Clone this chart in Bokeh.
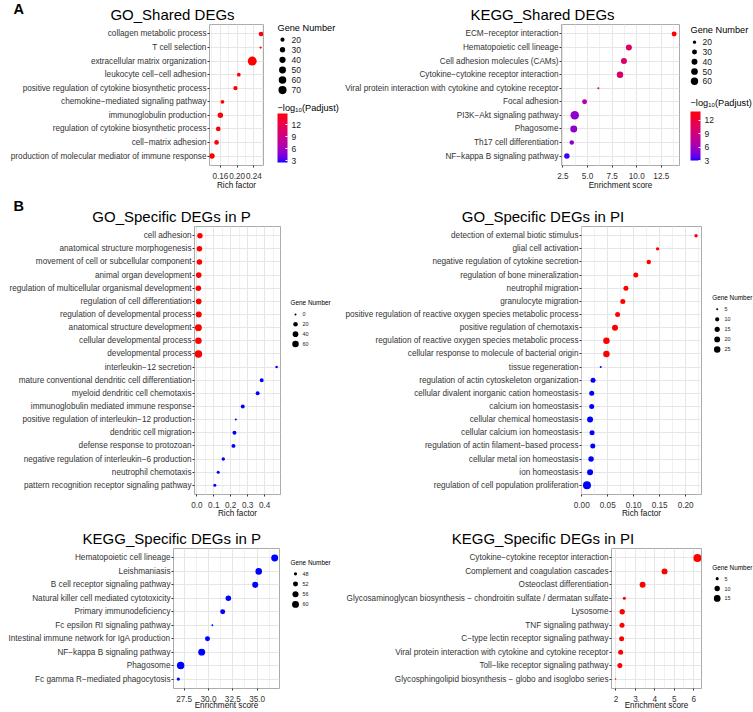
import numpy as np
from bokeh.plotting import figure
from bokeh.layouts import row, column
from bokeh.models import (ColumnDataSource, FactorRange, Range1d, FixedTicker,
                          NumeralTickFormatter, LinearColorMapper, ColorBar)
from bokeh.transform import transform, factor_cmap
from bokeh.core.properties import value
from bokeh.embed import file_html
from bokeh.resources import INLINE

# ------------------------------------------------------------------ data
go_shared_terms = ["collagen metabolic process", "T cell selection", "extracellular matrix organization",
                   "leukocyte cell\u2212cell adhesion", "positive regulation of cytokine biosynthetic process",
                   "chemokine\u2212mediated signaling pathway", "immunoglobulin production",
                   "regulation of cytokine biosynthetic process", "cell\u2212matrix adhesion",
                   "production of molecular mediator of immune response"]
go_shared_rich = [0.257, 0.256, 0.236, 0.204, 0.196, 0.165, 0.160, 0.155, 0.151, 0.140]
go_shared_genes = [24, 14, 88, 18, 21, 18, 31, 24, 24, 31]
go_shared_logp = [14.6, 14.7, 14.8, 14.5, 14.6, 14.6, 14.7, 14.6, 14.6, 14.8]
go_shared_logp_limits = (2.6, 14.8)
go_shared_ticks = [0.16, 0.20, 0.24]
go_shared_minor = [0.14, 0.18, 0.22, 0.26]
go_shared_breaks = [20, 30, 40, 50, 60, 70]

kegg_shared_terms = ["ECM\u2212receptor interaction", "Hematopoietic cell lineage", "Cell adhesion molecules (CAMs)",
                     "Cytokine\u2212cytokine receptor interaction",
                     "Viral protein interaction with cytokine and cytokine receptor", "Focal adhesion",
                     "PI3K\u2212Akt signaling pathway", "Phagosome", "Th17 cell differentiation",
                     "NF\u2212kappa B signaling pathway"]
kegg_shared_score = [13.8, 9.2, 8.7, 8.3, 6.1, 4.7, 3.7, 3.6, 3.4, 2.9]
kegg_shared_genes = [30, 41, 41, 47, 17, 30, 80, 54, 26, 35]
kegg_shared_logp = [14.0, 10.3, 10.0, 9.9, 8.2, 6.8, 5.2, 5.3, 5.1, 3.4]
kegg_shared_logp_limits = (3.0, 14.0)
kegg_shared_ticks = [2.5, 5.0, 7.5, 10.0, 12.5]
kegg_shared_minor = [3.75, 6.25, 8.75, 11.25, 13.75]
kegg_shared_breaks = [20, 30, 40, 50, 60]

colorbar_ticks = [3, 6, 9, 12]

go_p_terms = ["cell adhesion", "anatomical structure morphogenesis", "movement of cell or subcellular component",
              "animal organ development", "regulation of multicellular organismal development",
              "regulation of cell differentiation", "regulation of developmental process",
              "anatomical structure development", "cellular developmental process", "developmental process",
              "interleukin\u221212 secretion", "mature conventional dendritic cell differentiation",
              "myeloid dendritic cell chemotaxis", "immunoglobulin mediated immune response",
              "positive regulation of interleukin\u221212 production", "dendritic cell migration",
              "defense response to protozoan", "negative regulation of interleukin\u22126 production",
              "neutrophil chemotaxis", "pattern recognition receptor signaling pathway"]
go_p_rich = [0.018, 0.015, 0.015, 0.011, 0.009, 0.011, 0.011, 0.009, 0.009, 0.009,
             0.471, 0.383, 0.359, 0.271, 0.230, 0.222, 0.216, 0.156, 0.126, 0.106]
go_p_genes = [36, 38, 37, 40, 37, 40, 48, 70, 60, 88, 3, 13, 13, 13, 2, 13, 13, 8, 5, 5]
go_p_group = ["high"] * 10 + ["low"] * 10
go_p_ticks = [0.0, 0.1, 0.2, 0.3, 0.4]
go_p_minor = [0.05, 0.15, 0.25, 0.35, 0.45]
go_p_breaks = [0, 20, 40, 60]

go_pi_terms = ["detection of external biotic stimulus", "glial cell activation",
               "negative regulation of cytokine secretion", "regulation of bone mineralization",
               "neutrophil migration", "granulocyte migration",
               "positive regulation of reactive oxygen species metabolic process",
               "positive regulation of chemotaxis", "regulation of reactive oxygen species metabolic process",
               "cellular response to molecule of bacterial origin", "tissue regeneration",
               "regulation of actin cytoskeleton organization", "cellular divalent inorganic cation homeostasis",
               "calcium ion homeostasis", "cellular chemical homeostasis", "cellular calcium ion homeostasis",
               "regulation of actin filament\u2212based process", "cellular metal ion homeostasis",
               "ion homeostasis", "regulation of cell population proliferation"]
go_pi_rich = [0.220, 0.146, 0.129, 0.104, 0.085, 0.079, 0.069, 0.064, 0.0475, 0.0475,
              0.0365, 0.0217, 0.0192, 0.0192, 0.016, 0.0198, 0.0212, 0.0179, 0.016, 0.0100]
go_pi_genes = [7, 7, 11, 14, 14, 14, 14, 21, 25, 25, 5, 14, 14, 14, 21, 14, 14, 17, 21, 41]
go_pi_group = ["high"] * 10 + ["low"] * 10
go_pi_ticks = [0.00, 0.05, 0.10, 0.15, 0.20]
go_pi_minor = [0.025, 0.075, 0.125, 0.175, 0.225]
go_pi_breaks = [5, 10, 15, 20, 25]

kegg_p_terms = ["Hematopoietic cell lineage", "Leishmaniasis", "B cell receptor signaling pathway",
                "Natural killer cell mediated cytotoxicity", "Primary immunodeficiency",
                "Fc epsilon RI signaling pathway", "Intestinal immune network for IgA production",
                "NF\u2212kappa B signaling pathway", "Phagosome", "Fc gamma R\u2212mediated phagocytosis"]
kegg_p_score = [36.8, 35.16, 34.8, 32.04, 31.46, 30.4, 29.9, 29.3, 27.14, 26.9]
kegg_p_genes = [60, 58, 56, 54, 52, 47, 52, 60, 63, 48]
kegg_p_group = ["low"] * 10
kegg_p_ticks = [27.5, 30.0, 32.5, 35.0]
kegg_p_minor = [26.25, 28.75, 31.25, 33.75, 36.25]
kegg_p_breaks = [48, 52, 56, 60]

kegg_pi_terms = ["Cytokine\u2212cytokine receptor interaction", "Complement and coagulation cascades",
                 "Osteoclast differentiation",
                 "Glycosaminoglycan biosynthesis \u2212 chondroitin sulfate / dermatan sulfate",
                 "Lysosome", "TNF signaling pathway", "C\u2212type lectin receptor signaling pathway",
                 "Viral protein interaction with cytokine and cytokine receptor",
                 "Toll\u2212like receptor signaling pathway",
                 "Glycosphingolipid biosynthesis \u2212 globo and isoglobo series"]
kegg_pi_score = [6.19, 4.5, 3.37, 2.43, 2.32, 2.31, 2.29, 2.24, 2.2, 1.98]
kegg_pi_genes = [21, 12, 12, 5, 10, 9, 9, 9, 9, 4]
kegg_pi_group = ["high"] * 10
kegg_pi_ticks = [2, 3, 4, 5, 6]
kegg_pi_minor = [2.5, 3.5, 4.5, 5.5]
kegg_pi_breaks = [5, 10, 15]

# ------------------------------------------------------------------ styling helpers
FONT = "Liberation Sans"
RED, BLUE = "#FF0000", "#0000FF"
W, H = 753, 712

_M = np.array([[0.4124564, 0.3575761, 0.1804375],
               [0.2126729, 0.7151522, 0.0721750],
               [0.0193339, 0.1191920, 0.9503041]])
_W = np.array([0.95047, 1.0, 1.08883])


def _to_lab(hexc):
    c = np.array([int(hexc[i:i + 2], 16) for i in (1, 3, 5)]) / 255.0
    lin = np.where(c <= 0.04045, c / 12.92, ((c + 0.055) / 1.055) ** 2.4)
    t = (_M @ lin) / _W
    d = 6 / 29
    f = np.where(t > d ** 3, np.cbrt(t), t / (3 * d * d) + 4 / 29)
    return np.array([116 * f[1] - 16, 500 * (f[0] - f[1]), 200 * (f[1] - f[2])])


def _to_hex(lab):
    L, a, b = lab
    fy = (L + 16) / 116
    f = np.array([fy + a / 500, fy, fy - b / 200])
    d = 6 / 29
    t = np.where(f > d, f ** 3, 3 * d * d * (f - 4 / 29))
    lin = np.clip(np.linalg.inv(_M) @ (t * _W), 0, 1)
    c = np.where(lin <= 0.0031308, 12.92 * lin, 1.055 * lin ** (1 / 2.4) - 0.055)
    r, g, bb = np.clip(np.round(c * 255), 0, 255).astype(int)
    return "#%02x%02x%02x" % (r, g, bb)


_lo, _hi = _to_lab(BLUE), _to_lab(RED)
PALETTE = [_to_hex(_lo + (_hi - _lo) * t) for t in np.linspace(0, 1, 256)]


def size_scale(v, vmin, vmax, dlo, dhi):
    x = np.clip((np.asarray(v, float) - vmin) / (vmax - vmin), 0, 1)
    return list(dlo + (dhi - dlo) * np.sqrt(x))


def blank(fig_box, frame_tb=None):
    """Figure without axes whose data coordinates equal page pixels (inside its frame)."""
    fl, ft, fr, fb = fig_box
    yt, yb = frame_tb if frame_tb else (ft, fb)
    p = figure(width=fr - fl, height=fb - ft, x_range=Range1d(fl, fr), y_range=Range1d(yb, yt),
               output_backend="svg", toolbar_location=None,
               min_border_left=0, min_border_right=0,
               min_border_top=yt - ft, min_border_bottom=fb - yb,
               x_axis_type=None, y_axis_type=None)
    p.outline_line_color = None
    return p


def put_text(p, x, y, text, size, align="left", bold=False, color="black"):
    p.text(x=[x], y=[y], text=[text], text_font=value(FONT), text_font_size=value(size),
           text_font_style="bold" if bold else "normal", text_baseline="middle",
           text_align=align, text_color=color)


def strip(fig_box, items):
    p = blank(fig_box)
    for (x, y, text, size, align, bold) in items:
        put_text(p, x, y, text, size, align=align, bold=bold)
    return p


def main_panel(fig_box, frame, terms, xs, genes, extra, fill, ticks, minor, fmt, xlabel,
               dlo, dhi, label_standoff=-1):
    fl, ft, fr, fb = fig_box
    xl, yt, xr, yb = frame
    lo, hi = min(xs), max(xs)
    pad = 0.05 * (hi - lo)
    p = figure(width=fr - fl, height=fb - ft,
               x_range=Range1d(lo - pad, hi + pad),
               y_range=FactorRange(factors=list(reversed(terms)), range_padding=0.2,
                                   range_padding_units="absolute"),
               output_backend="svg", toolbar_location=None,
               min_border_left=xl - fl, min_border_right=fr - xr,
               min_border_top=yt - ft, min_border_bottom=fb - yb)
    data = dict(term=terms, x=xs, genes=genes,
                size=size_scale(genes, min(genes), max(genes), dlo, dhi))
    data.update(extra)
    src = ColumnDataSource(data)
    p.scatter("x", "term", size="size", source=src, fill_color=fill, line_color=None)

    p.xaxis.ticker = FixedTicker(ticks=ticks, minor_ticks=minor)
    p.xaxis.formatter = NumeralTickFormatter(format=fmt)
    for ax in (p.xaxis[0], p.yaxis[0]):
        ax.axis_line_color = None
        ax.major_tick_line_color = "#333333"
        ax.major_tick_out = 2
        ax.major_tick_in = 0
        ax.minor_tick_line_color = None
        ax.major_label_text_font = FONT
        ax.major_label_text_font_size = "8.2px"
        ax.major_label_text_color = "#333333"
        ax.major_label_standoff = 1
    p.xaxis.major_label_standoff = 3
    p.xaxis.axis_label = xlabel
    p.xaxis.axis_label_text_font = FONT
    p.xaxis.axis_label_text_font_size = "8.2px"
    p.xaxis.axis_label_text_font_style = "normal"
    p.xaxis.axis_label_text_color = "#111111"
    p.xaxis.axis_label_standoff = label_standoff
    p.xgrid.grid_line_color = "#E6E6E6"
    p.xgrid.minor_grid_line_color = "#F1F1F1"
    p.ygrid.grid_line_color = "#E6E6E6"
    p.outline_line_color = "#ABABAB"
    return p


def legend_panel(fig_box, frame_tb, breaks, genes, dlo, dhi, title_xy, circ_x, lab_x, y0, dy,
                 title_fs, lab_fs, cbar=None):
    p = blank(fig_box, frame_tb)
    fl, ft, fr, fb = fig_box
    n = len(breaks)
    ys = [y0 + i * dy for i in range(n)]
    p.scatter(x=[circ_x] * n, y=ys, size=size_scale(breaks, min(genes), max(genes), dlo, dhi),
              fill_color="black", line_color=None)
    p.text(x=[lab_x] * n, y=ys, text=[str(b) for b in breaks], text_font=value(FONT),
           text_font_size=value(lab_fs), text_baseline="middle", text_align="left",
           text_color="#1a1a1a")
    put_text(p, title_xy[0], title_xy[1], "Gene Number", title_fs)
    if cbar:
        mapper, (bx0, by0, bx1, by1), (tx, ty) = cbar
        put_text(p, tx, ty, "\u2212log\u2081\u2080(Padjust)", title_fs)
        cb = ColorBar(color_mapper=mapper, ticker=FixedTicker(ticks=colorbar_ticks),
                      formatter=NumeralTickFormatter(format="0"),
                      width=bx1 - bx0, height=by1 - by0,
                      location=(bx0 - fl, frame_tb[1] - by1),
                      padding=0, margin=0,
                      label_standoff=4, major_label_text_font=FONT, major_label_text_font_size="8.5px",
                      major_label_text_color="#1a1a1a", major_tick_line_color="white",
                      major_tick_in=2, major_tick_out=0, bar_line_color=None,
                      border_line_color=None, background_fill_color=None)
        p.add_layout(cb)
    return p


# ------------------------------------------------------------------ row A  (frames y 24..168)
go_sh_map = LinearColorMapper(palette=PALETTE, low=go_shared_logp_limits[0], high=go_shared_logp_limits[1])
kg_sh_map = LinearColorMapper(palette=PALETTE, low=kegg_shared_logp_limits[0], high=kegg_shared_logp_limits[1])

strip_a = strip((0, 0, W, 23), [(13, 8.5, "A", "14.5px", "left", True),
                                (172, 13.5, "GO_Shared DEGs", "15px", "center", False),
                                (542, 13.5, "KEGG_Shared DEGs", "15px", "center", False)])
a_go = main_panel((0, 23, 268, 192), (209, 24, 263, 168), go_shared_terms, go_shared_rich,
                  go_shared_genes, dict(logp=go_shared_logp), transform("logp", go_sh_map),
                  go_shared_ticks, go_shared_minor, "0.00", "Rich factor", 2.2, 9.0)
a_go_leg = legend_panel((268, 23, 340, 192), (24, 168), go_shared_breaks, go_shared_genes, 2.2, 9.0,
                        (277, 28), 282, 291, 39.5, 10.3, "9.2px", "8.5px",
                        cbar=(go_sh_map, (277, 116, 287, 165), (277, 109)))
a_kg = main_panel((340, 23, 685, 192), (561, 24, 679, 168), kegg_shared_terms, kegg_shared_score,
                  kegg_shared_genes, dict(logp=kegg_shared_logp), transform("logp", kg_sh_map),
                  kegg_shared_ticks, kegg_shared_minor, "0.0", "Enrichment score", 2.0, 8.5)
a_kg_leg = legend_panel((685, 23, W, 192), (24, 168), kegg_shared_breaks, kegg_shared_genes, 2.0, 8.5,
                        (690, 29.5), 694, 702, 42, 10, "9.2px", "8.5px",
                        cbar=(kg_sh_map, (690, 114, 700, 163), (690, 104)))

grp_fill = factor_cmap("grp", palette=[RED, BLUE], factors=["high", "low"])

# ------------------------------------------------------------------ row B1 (frames y 226..498)
strip_b1 = strip((0, 192, W, 225), [(13, 205, "B", "14.5px", "left", True),
                                    (171, 215.5, "GO_Specific DEGs in P", "15px", "center", False),
                                    (542.5, 215.5, "GO_Specific DEGs in PI", "15px", "center", False)])
b_gop = main_panel((0, 225, 285, 520), (194, 226, 280, 498), go_p_terms, go_p_rich, go_p_genes,
                   dict(grp=go_p_group), grp_fill, go_p_ticks, go_p_minor, "0.0", "Rich factor",
                   2.0, 7.5, label_standoff=-2)
b_gop_leg = legend_panel((285, 225, 340, 520), (226, 498), go_p_breaks, go_p_genes, 2.0, 7.5,
                         (290, 303.3), 295, 302, 315.3, 10, "6.4px", "5.4px")
b_gopi = main_panel((340, 225, 706, 520), (581, 226, 701, 498), go_pi_terms, go_pi_rich, go_pi_genes,
                    dict(grp=go_pi_group), grp_fill, go_pi_ticks, go_pi_minor, "0.00", "Rich factor",
                    2.0, 8.0, label_standoff=-2)
b_gopi_leg = legend_panel((706, 225, W, 520), (226, 498), go_pi_breaks, go_pi_genes, 2.0, 8.0,
                          (711.7, 298.3), 716.7, 724, 310, 10.2, "6.4px", "5.4px")

# ------------------------------------------------------------------ row B2 (frames y 548..692)
strip_b2 = strip((0, 520, W, 547), [(171.3, 538, "KEGG_Specific DEGs in P", "15px", "center", False),
                                    (542.5, 538, "KEGG_Specific DEGs in PI", "15px", "center", False)])
b_kp = main_panel((0, 547, 285, H), (173, 548, 279, 692), kegg_p_terms, kegg_p_score, kegg_p_genes,
                  dict(grp=kegg_p_group), grp_fill, kegg_p_ticks, kegg_p_minor, "0.0", "Enrichment score",
                  1.8, 7.5, label_standoff=-4)
b_kp_leg = legend_panel((285, 547, 340, H), (548, 692), kegg_p_breaks, kegg_p_genes, 1.8, 7.5,
                        (290, 562.3), 295, 302, 574, 10.5, "6.4px", "5.4px")
b_kpi = main_panel((340, 547, 706, H), (611, 548, 701, 692), kegg_pi_terms, kegg_pi_score,
                   kegg_pi_genes, dict(grp=kegg_pi_group), grp_fill, kegg_pi_ticks, kegg_pi_minor, "0",
                   "Enrichment score", 1.5, 8.0, label_standoff=-4)
b_kpi_leg = legend_panel((706, 547, W, H), (548, 692), kegg_pi_breaks, kegg_pi_genes, 1.5, 8.0,
                         (711.7, 567.3), 716.7, 724, 579, 10.2, "6.4px", "5.4px")

layout = column(strip_a,
                row(a_go, a_go_leg, a_kg, a_kg_leg),
                strip_b1,
                row(b_gop, b_gop_leg, b_gopi, b_gopi_leg),
                strip_b2,
                row(b_kp, b_kp_leg, b_kpi, b_kpi_leg))

with open("out.html", "w", encoding="utf-8") as fh:
    fh.write(file_html(layout, INLINE))
